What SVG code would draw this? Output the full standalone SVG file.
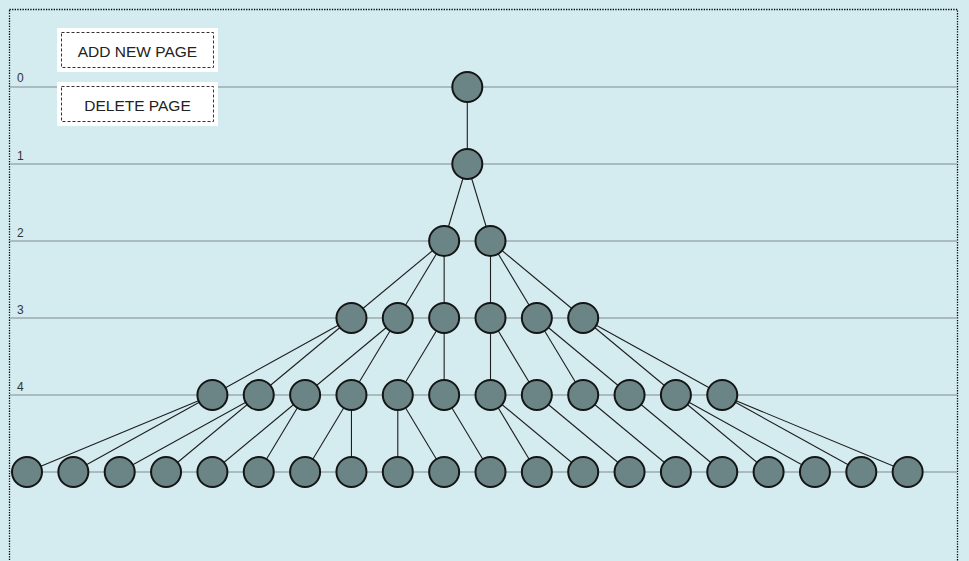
<svg xmlns="http://www.w3.org/2000/svg" width="969" height="561" viewBox="0 0 969 561">
<style>
.bg{fill:#d4ecf0}
.frame{fill:none;stroke:#000;stroke-width:1.3;stroke-dasharray:1.3,1.3}
.lane{stroke:#a9bbbf;stroke-width:2}
.lbl{font-family:"Liberation Sans",Arial,sans-serif;font-size:12px;fill:#333}
.edge{stroke:#1e1e1e;stroke-width:1.1;fill:none}
.node circle{fill:#6b8587;stroke:#151515;stroke-width:2}
.btn-bg{fill:#ffffff}
.btn-in{fill:#ffffff;stroke:#333;stroke-width:1;stroke-dasharray:3,2}
.btn-t{font-family:"Liberation Sans",Arial,sans-serif;font-size:15.5px;fill:#222;text-anchor:middle}
</style>
<rect class="bg" x="0" y="0" width="969" height="561"/>
<rect class="frame" x="9.5" y="9.5" width="948" height="600"/>
<g id="lanes">
<line class="lane" x1="10" y1="87" x2="957" y2="87"/>
<line class="lane" x1="10" y1="164" x2="957" y2="164"/>
<line class="lane" x1="10" y1="241" x2="957" y2="241"/>
<line class="lane" x1="10" y1="318" x2="957" y2="318"/>
<line class="lane" x1="10" y1="395" x2="957" y2="395"/>
<line class="lane" x1="10" y1="472" x2="957" y2="472"/>
<text class="lbl" x="17" y="82">0</text>
<text class="lbl" x="17" y="159.5">1</text>
<text class="lbl" x="17" y="237">2</text>
<text class="lbl" x="17" y="313.5">3</text>
<text class="lbl" x="17" y="390.5">4</text>
</g>
<g id="btn-add">
<rect class="btn-bg" x="57" y="28" width="161" height="44"/>
<rect class="btn-in" x="61.5" y="32.5" width="152" height="35"/>
<text class="btn-t" x="137.5" y="56.5">ADD NEW PAGE</text>
</g>
<g id="btn-delete">
<rect class="btn-bg" x="57" y="82" width="161" height="44"/>
<rect class="btn-in" x="61.5" y="86.5" width="152" height="35"/>
<text class="btn-t" x="137.5" y="110.5">DELETE PAGE</text>
</g>
<g id="connectors" class="edge">
<line x1="467.3" y1="87" x2="467.3" y2="164"/>
<line x1="467.3" y1="164" x2="444.15" y2="241"/>
<line x1="467.3" y1="164" x2="490.5" y2="241"/>
<line x1="444.15" y1="241" x2="351.45" y2="318"/>
<line x1="444.15" y1="241" x2="397.8" y2="318"/>
<line x1="444.15" y1="241" x2="444.15" y2="318"/>
<line x1="490.5" y1="241" x2="490.5" y2="318"/>
<line x1="490.5" y1="241" x2="536.85" y2="318"/>
<line x1="490.5" y1="241" x2="583.2" y2="318"/>
<line x1="351.45" y1="318" x2="212.4" y2="395"/>
<line x1="351.45" y1="318" x2="258.75" y2="395"/>
<line x1="397.8" y1="318" x2="305.1" y2="395"/>
<line x1="397.8" y1="318" x2="351.45" y2="395"/>
<line x1="444.15" y1="318" x2="397.8" y2="395"/>
<line x1="444.15" y1="318" x2="444.15" y2="395"/>
<line x1="490.5" y1="318" x2="490.5" y2="395"/>
<line x1="490.5" y1="318" x2="536.85" y2="395"/>
<line x1="536.85" y1="318" x2="583.2" y2="395"/>
<line x1="536.85" y1="318" x2="629.55" y2="395"/>
<line x1="583.2" y1="318" x2="675.9" y2="395"/>
<line x1="583.2" y1="318" x2="722.25" y2="395"/>
<line x1="212.4" y1="395" x2="27" y2="472"/>
<line x1="212.4" y1="395" x2="73.35" y2="472"/>
<line x1="258.75" y1="395" x2="119.7" y2="472"/>
<line x1="258.75" y1="395" x2="166.05" y2="472"/>
<line x1="305.1" y1="395" x2="212.4" y2="472"/>
<line x1="305.1" y1="395" x2="258.75" y2="472"/>
<line x1="351.45" y1="395" x2="305.1" y2="472"/>
<line x1="351.45" y1="395" x2="351.45" y2="472"/>
<line x1="397.8" y1="395" x2="397.8" y2="472"/>
<line x1="397.8" y1="395" x2="444.15" y2="472"/>
<line x1="444.15" y1="395" x2="490.5" y2="472"/>
<line x1="490.5" y1="395" x2="536.85" y2="472"/>
<line x1="490.5" y1="395" x2="583.2" y2="472"/>
<line x1="536.85" y1="395" x2="629.55" y2="472"/>
<line x1="583.2" y1="395" x2="675.9" y2="472"/>
<line x1="629.55" y1="395" x2="722.25" y2="472"/>
<line x1="675.9" y1="395" x2="768.6" y2="472"/>
<line x1="675.9" y1="395" x2="814.95" y2="472"/>
<line x1="722.25" y1="395" x2="861.3" y2="472"/>
<line x1="722.25" y1="395" x2="907.65" y2="472"/>
</g>
<g id="n0" class="node"><circle cx="467.3" cy="87" r="15"/></g>
<g id="n1" class="node"><circle cx="467.3" cy="164" r="15"/></g>
<g id="n2a" class="node"><circle cx="444.15" cy="241" r="15"/></g>
<g id="n2b" class="node"><circle cx="490.5" cy="241" r="15"/></g>
<g id="n3a" class="node"><circle cx="351.45" cy="318" r="15"/></g>
<g id="n3b" class="node"><circle cx="397.8" cy="318" r="15"/></g>
<g id="n3c" class="node"><circle cx="444.15" cy="318" r="15"/></g>
<g id="n3d" class="node"><circle cx="490.5" cy="318" r="15"/></g>
<g id="n3e" class="node"><circle cx="536.85" cy="318" r="15"/></g>
<g id="n3f" class="node"><circle cx="583.2" cy="318" r="15"/></g>
<g id="n4a" class="node"><circle cx="212.4" cy="395" r="15"/></g>
<g id="n4b" class="node"><circle cx="258.75" cy="395" r="15"/></g>
<g id="n4c" class="node"><circle cx="305.1" cy="395" r="15"/></g>
<g id="n4d" class="node"><circle cx="351.45" cy="395" r="15"/></g>
<g id="n4e" class="node"><circle cx="397.8" cy="395" r="15"/></g>
<g id="n4f" class="node"><circle cx="444.15" cy="395" r="15"/></g>
<g id="n4g" class="node"><circle cx="490.5" cy="395" r="15"/></g>
<g id="n4h" class="node"><circle cx="536.85" cy="395" r="15"/></g>
<g id="n4i" class="node"><circle cx="583.2" cy="395" r="15"/></g>
<g id="n4j" class="node"><circle cx="629.55" cy="395" r="15"/></g>
<g id="n4k" class="node"><circle cx="675.9" cy="395" r="15"/></g>
<g id="n4l" class="node"><circle cx="722.25" cy="395" r="15"/></g>
<g id="n5a" class="node"><circle cx="27" cy="472" r="15"/></g>
<g id="n5b" class="node"><circle cx="73.35" cy="472" r="15"/></g>
<g id="n5c" class="node"><circle cx="119.7" cy="472" r="15"/></g>
<g id="n5d" class="node"><circle cx="166.05" cy="472" r="15"/></g>
<g id="n5e" class="node"><circle cx="212.4" cy="472" r="15"/></g>
<g id="n5f" class="node"><circle cx="258.75" cy="472" r="15"/></g>
<g id="n5g" class="node"><circle cx="305.1" cy="472" r="15"/></g>
<g id="n5h" class="node"><circle cx="351.45" cy="472" r="15"/></g>
<g id="n5i" class="node"><circle cx="397.8" cy="472" r="15"/></g>
<g id="n5j" class="node"><circle cx="444.15" cy="472" r="15"/></g>
<g id="n5k" class="node"><circle cx="490.5" cy="472" r="15"/></g>
<g id="n5l" class="node"><circle cx="536.85" cy="472" r="15"/></g>
<g id="n5m" class="node"><circle cx="583.2" cy="472" r="15"/></g>
<g id="n5n" class="node"><circle cx="629.55" cy="472" r="15"/></g>
<g id="n5o" class="node"><circle cx="675.9" cy="472" r="15"/></g>
<g id="n5p" class="node"><circle cx="722.25" cy="472" r="15"/></g>
<g id="n5q" class="node"><circle cx="768.6" cy="472" r="15"/></g>
<g id="n5r" class="node"><circle cx="814.95" cy="472" r="15"/></g>
<g id="n5s" class="node"><circle cx="861.3" cy="472" r="15"/></g>
<g id="n5t" class="node"><circle cx="907.65" cy="472" r="15"/></g>
</svg>
